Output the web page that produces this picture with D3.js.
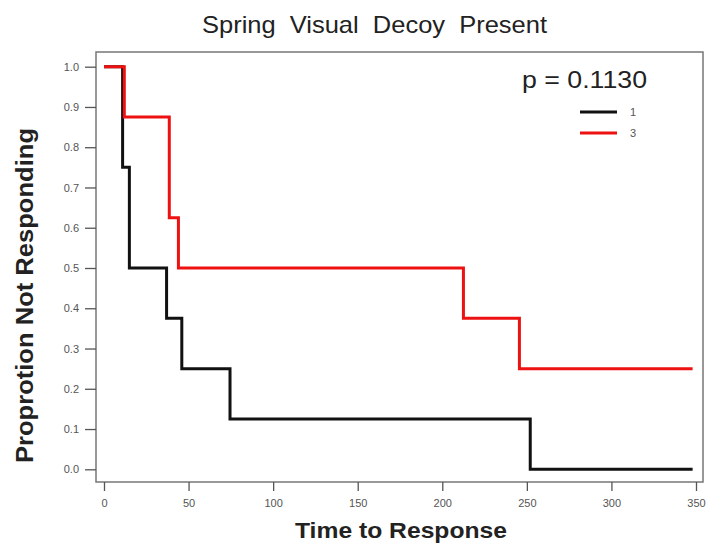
<!DOCTYPE html>
<html><head><meta charset="utf-8">
<script src="https://cdn.jsdelivr.net/npm/d3@7"></script>
<style>body{margin:0;background:#fff;} svg{display:block;font-family:Arial,"Liberation Sans",sans-serif;}</style>
</head><body>
<script>
const title = "Spring  Visual  Decoy  Present";
const xLabel = "Time to Response";
const yLabel = "Proprotion Not Responding";
const pText = "p = 0.1130";
const groups = ["1", "3"];
const colors = ["#111111", "#ee1111"];
// step curves: times of each step and survival values after them
const times1 = [0, 11, 15, 37, 46, 74.5, 252, 348];
const surv1  = [1.0, 0.75, 0.5, 0.375, 0.25, 0.125, 0.0, 0.0];
const times3 = [0, 12, 38.6, 44, 212.5, 245.6, 348];
const surv3  = [1.0, 0.875, 0.625, 0.5, 0.375, 0.25, 0.25];
const xTicks = [0, 50, 100, 150, 200, 250, 300, 350];
const yTicks = [0, 0.1, 0.2, 0.3, 0.4, 0.5, 0.6, 0.7, 0.8, 0.9, 1.0];

const W = 709, H = 550;
const svg = d3.select("body").append("svg").attr("width", W).attr("height", H);
const frame = {l: 96, t: 52, r: 703, b: 482};
const x = d3.scaleLinear().domain([0, 350]).range([104, 696]);
const y = d3.scaleLinear().domain([0, 1]).range([469.3, 66.7]);

// frame
svg.append("rect").attr("x", frame.l).attr("y", frame.t)
  .attr("width", frame.r - frame.l).attr("height", frame.b - frame.t)
  .attr("fill", "none").attr("stroke", "#777").attr("stroke-width", 1.5);

// y axis
const yAxis = d3.axisLeft(y).tickValues(yTicks).tickFormat(d3.format(".1f")).tickSize(11).tickPadding(6);
const gy = svg.append("g").attr("transform", `translate(${frame.l},0)`).call(yAxis);
gy.select(".domain").remove();
gy.selectAll("line").attr("stroke", "#555").attr("stroke-width", 1.3);
gy.selectAll("text").attr("fill", "#555").attr("font-size", 11).attr("font-family", "Arial,'Liberation Sans',sans-serif");

// x axis
const xAxis = d3.axisBottom(x).tickValues(xTicks).tickFormat(d3.format("d")).tickSize(9).tickPadding(8);
const gx = svg.append("g").attr("transform", `translate(0,${frame.b})`).call(xAxis);
gx.select(".domain").remove();
gx.selectAll("line").attr("stroke", "#555").attr("stroke-width", 1.3);
gx.selectAll("text").attr("fill", "#555").attr("font-size", 11).attr("font-family", "Arial,'Liberation Sans',sans-serif");

// step lines
const line = d3.line().x(d => x(d[0])).y(d => y(d[1])).curve(d3.curveStepAfter);
const series = [
  {name: groups[0], color: colors[0], data: times1.map((t, i) => [t, surv1[i]])},
  {name: groups[1], color: colors[1], data: times3.map((t, i) => [t, surv3[i]])}
];
series.forEach(s => {
  svg.append("path").attr("d", line(s.data)).attr("fill", "none")
    .attr("stroke", s.color).attr("stroke-width", 3).attr("stroke-linejoin", "miter");
});

// title & labels
svg.append("text").attr("x", 202).attr("y", 33).attr("text-anchor", "start")
  .attr("font-size", 24).attr("fill", "#222").style("white-space", "pre")
  .attr("textLength", 345).attr("lengthAdjust", "spacingAndGlyphs").text(title);
svg.append("text").attr("x", 295).attr("y", 538).attr("text-anchor", "start")
  .attr("font-size", 22).attr("font-weight", "bold").attr("fill", "#222")
  .attr("textLength", 212).attr("lengthAdjust", "spacingAndGlyphs").text(xLabel);
svg.append("text").attr("transform", "translate(33,463) rotate(-90)").attr("text-anchor", "start")
  .attr("font-size", 24).attr("font-weight", "bold").attr("fill", "#222")
  .attr("textLength", 335).attr("lengthAdjust", "spacingAndGlyphs").text(yLabel);

// p value & legend
svg.append("text").attr("x", 522).attr("y", 88).attr("text-anchor", "start")
  .attr("font-size", 23).attr("fill", "#222")
  .attr("textLength", 125).attr("lengthAdjust", "spacingAndGlyphs").text(pText);
series.forEach((s, i) => {
  const ly = 112 + i * 21;
  svg.append("line").attr("x1", 580).attr("x2", 617).attr("y1", ly).attr("y2", ly)
    .attr("stroke", s.color).attr("stroke-width", 3);
  svg.append("text").attr("x", 630).attr("y", ly + 4).attr("font-size", 11)
    .attr("fill", "#555").text(s.name);
});
</script>
</body></html>
